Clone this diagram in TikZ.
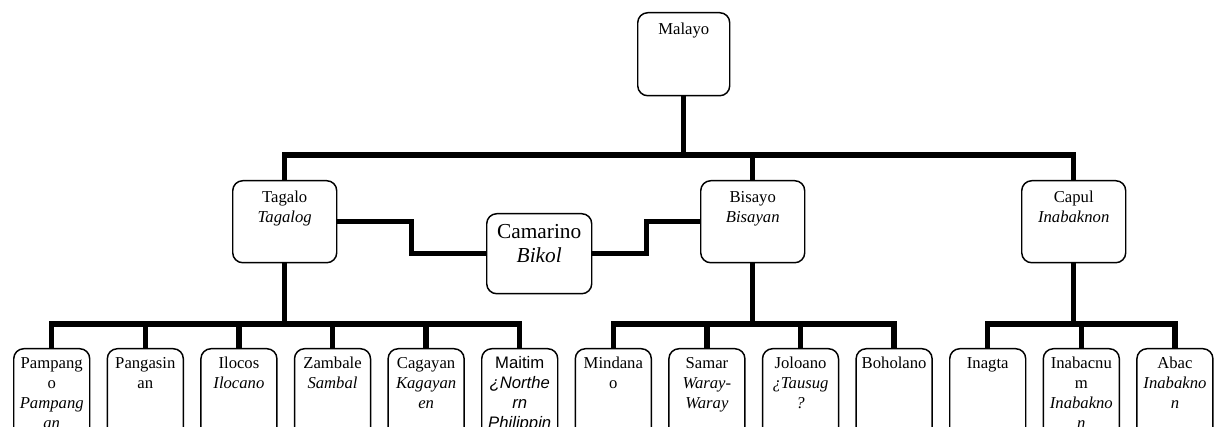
\documentclass[tikz,border=0pt]{standalone}
\usepackage{fontspec}
\setmainfont{Liberation Serif}
\newfontfamily\arialfont{Liberation Sans}
\newcommand{\Txt}[3]{\parbox[t][#2][t]{#1}{\centering\strut #3}}

\begin{document}
\begin{tikzpicture}[x=0.75pt,y=-0.75pt]
\tikzset{
  link/.style={line width=4pt},
  langbox/.style={draw,line width=1.1pt,rounded corners=7.5pt,fill=white,
    inner xsep=0pt,inner ysep=5.5pt,anchor=north west,
    font=\fontsize{12.5}{15}\selectfont},
  leafbox/.style={langbox,inner ysep=4.5pt}
}
\useasboundingbox (0,0) rectangle (1214,427);
\clip (0,0) rectangle (1214,427);

% top level
\node[langbox] (malayo) at (637,12) {\Txt{69pt}{51.25pt}{Malayo}};

% second level
\node[langbox] (tagalo) at (232,180) {\Txt{78pt}{50.5pt}{Tagalo\\\textit{Tagalog}}};
\node[langbox] (bisayo) at (700,180) {\Txt{78pt}{50.5pt}{Bisayo\\\textit{Bisayan}}};
\node[langbox] (capul) at (1021,180) {\Txt{78pt}{50.5pt}{Capul\\\textit{Inabaknon}}};
\node[langbox,inner ysep=6.15pt,font=\fontsize{16}{18}\selectfont] (camarino) at (486,213)
  {\Txt{78.75pt}{47.7pt}{Camarino\\\textit{Bikol}}};

% third level
\node[leafbox] (pampango) at (13,348) {\Txt{57pt}{63.75pt}{Pampang\\o\\\textit{Pampang}\\\textit{an}}};
\node[leafbox] (pangasinan) at (106.6,348) {\Txt{57pt}{63.75pt}{Pangasin\\an}};
\node[leafbox] (ilocos) at (200.2,348) {\Txt{57pt}{63.75pt}{Ilocos\\\textit{Ilocano}}};
\node[leafbox] (zambale) at (293.8,348) {\Txt{57pt}{63.75pt}{Zambale\\\textit{Sambal}}};
\node[leafbox] (cagayan) at (387.4,348) {\Txt{57pt}{63.75pt}{Cagayan\\\textit{Kagayan}\\\textit{en}}};
\node[leafbox,font=\arialfont\fontsize{12.5}{15}\selectfont] (maitim) at (481,348)
  {\Txt{57pt}{63.75pt}{Maitim\\\textit{¿Northe}\\\textit{rn}\\\textit{Philippin}}};
\node[leafbox] (mindanao) at (574.6,348) {\Txt{57pt}{63.75pt}{Mindana\\o}};
\node[leafbox] (samar) at (668.2,348) {\Txt{57pt}{63.75pt}{Samar\\\textit{Waray-}\\\textit{Waray}}};
\node[leafbox] (joloano) at (761.8,348) {\Txt{57pt}{63.75pt}{Joloano\\\textit{¿Tausug}\\\textit{?}}};
\node[leafbox] (boholano) at (855.4,348) {\Txt{57pt}{63.75pt}{Boholano}};
\node[leafbox] (inagta) at (949,348) {\Txt{57pt}{63.75pt}{Inagta}};
\node[leafbox] (inabacnum) at (1042.6,348) {\Txt{57pt}{63.75pt}{Inabacnu\\m\\\textit{Inabakno}\\\textit{n}}};
\node[leafbox] (abac) at (1136.2,348) {\Txt{57pt}{63.75pt}{Abac\\\textit{Inabakno}\\\textit{n}}};

\coordinate (busA) at (0,155);
\coordinate (busB) at (0,324);

% Malayo to second level
\draw[link] (malayo.south) -- (malayo.south |- busA);
\draw[link] (tagalo.north) |- (capul.north |- busA) -- (capul.north);
\draw[link] (bisayo.north) -- (bisayo.north |- busA);

% Camarino between Tagalo and Bisayo
\draw[link] (tagalo.east) -- ++(74,0) |- (camarino.west);
\draw[link] (camarino.east) -- ++(54,0) |- (bisayo.west);

% Tagalo branch
\draw[link] (tagalo.south) -- (tagalo.south |- busB);
\draw[link] (pampango.north) |- (maitim.north |- busB) -- (maitim.north);
\draw[link] (pangasinan.north) -- (pangasinan.north |- busB);
\draw[link] (ilocos.north) -- (ilocos.north |- busB);
\draw[link] (zambale.north) -- (zambale.north |- busB);
\draw[link] (cagayan.north) -- (cagayan.north |- busB);

% Bisayo branch
\draw[link] (bisayo.south) -- (bisayo.south |- busB);
\draw[link] (mindanao.north) |- (boholano.north |- busB) -- (boholano.north);
\draw[link] (samar.north) -- (samar.north |- busB);
\draw[link] (joloano.north) -- (joloano.north |- busB);

% Capul branch
\draw[link] (capul.south) -- (capul.south |- busB);
\draw[link] (inagta.north) |- (abac.north |- busB) -- (abac.north);
\draw[link] (inabacnum.north) -- (inabacnum.north |- busB);

\end{tikzpicture}
\end{document}
